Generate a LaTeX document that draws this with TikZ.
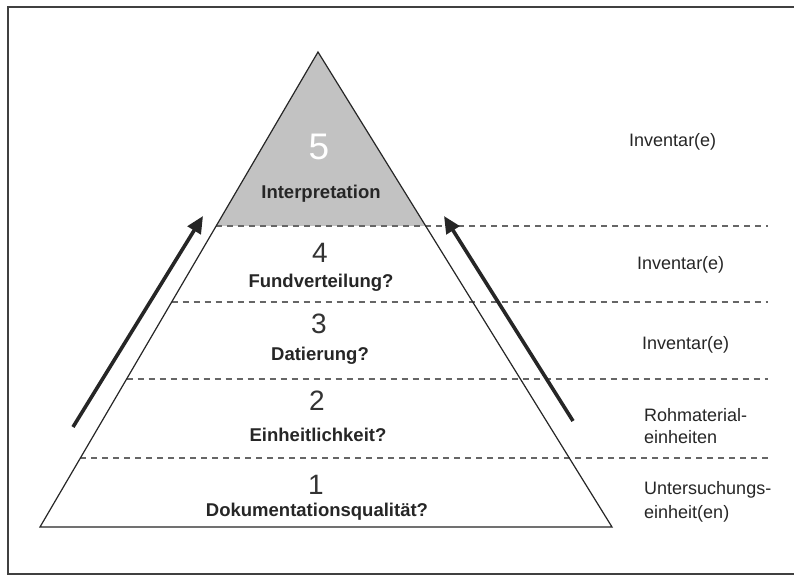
\documentclass[tikz,border=0pt]{standalone}
\usepackage{fontspec}
\setmainfont{Liberation Sans}
\usetikzlibrary{arrows.meta,calc}
\begin{document}
\begin{tikzpicture}[x=1pt,y=-1pt,
  lbl/.style={font=\fontsize{18}{22}\selectfont, anchor=base west, inner sep=0pt, text=black!85},
  qlbl/.style={font=\fontsize{18.5}{22}\bfseries\selectfont, inner sep=0pt, text height=13pt, text depth=0pt, text=black!85},
  num/.style={font=\fontsize{28}{30}\selectfont, inner sep=0pt, text=black!80},
  sep/.style={dash pattern=on 6pt off 5pt, line width=1.1pt, draw=black!60},
  bigarrow/.style={line width=3.6pt, draw=black!85, -{Triangle[length=17pt,width=15pt]}},
  frame/.style={line width=2pt, draw=black!75},
  side/.style={line width=1.2pt, draw=black!85, line join=miter}
]
\useasboundingbox (0,0) rectangle (794,577);
\fill[white] (0,0) rectangle (794,577);
% frame (right edge lies outside the picture)
\draw[frame] (800,7) -- (8,7) -- (8,574) -- (800,574);
% pyramid corners
\coordinate (A) at (318,52);
\coordinate (BL) at (40,527);
\coordinate (BR) at (612,527);
\coordinate (E) at (768,0);
% level boundaries
\coordinate (L4) at ($(A)!0.3663!(BL)$);
\coordinate (R4) at ($(A)!0.3663!(BR)$);
\coordinate (L3) at ($(A)!0.5263!(BL)$);
\coordinate (L2) at ($(A)!0.6884!(BL)$);
\coordinate (L1) at ($(A)!0.8547!(BL)$);
% shaded top
\fill[black!24] (A) -- (L4) -- (R4) -- cycle;
% dashed separators
\draw[sep] (L4) -- (L4 -| E);
\draw[sep] (L3) -- (L3 -| E);
\draw[sep] (L2) -- (L2 -| E);
\draw[sep] (L1) -- (L1 -| E);
% pyramid outline
\draw[side] (A) -- (BL) -- (BR) -- cycle;
% arrows
\coordinate (la0) at (73,427);
\coordinate (la1) at (203,216);
\coordinate (ra0) at (573,421);
\coordinate (ra1) at (444,216);
\draw[bigarrow] (la0) -- (la1);
\draw[bigarrow] (ra0) -- (ra1);
% level texts
\node[num, text=white, font=\fontsize{37}{40}\selectfont] (n5) at (319,147) {5};
\node[qlbl] (q5) at (321,192) {Interpretation};
\node[num] (n4) at (320,253) {4};
\node[qlbl] (q4) at (321,281) {Fundverteilung?};
\node[num] (n3) at (319,324) {3};
\node[qlbl] (q3) at (320,354) {Datierung?};
\node[num] (n2) at (317,401) {2};
\node[qlbl] (q2) at (318,435) {Einheitlichkeit?};
\node[num] (n1) at (316,485) {1};
\node[qlbl] (q1) at (317,510) {Dokumentationsqualität?};
% right labels
\node[lbl] (r5) at (629,146.5) {Inventar(e)};
\node[lbl] (r4) at (637,269.5) {Inventar(e)};
\node[lbl] (r3) at (642,349.5) {Inventar(e)};
\node[lbl] (r2a) at (644,421.5) {Rohmaterial-};
\node[lbl] (r2b) at (644,443.5) {einheiten};
\node[lbl] (r1a) at (644,494.5) {Untersuchungs-};
\node[lbl] (r1b) at (644,518.5) {einheit(en)};
\end{tikzpicture}
\end{document}
